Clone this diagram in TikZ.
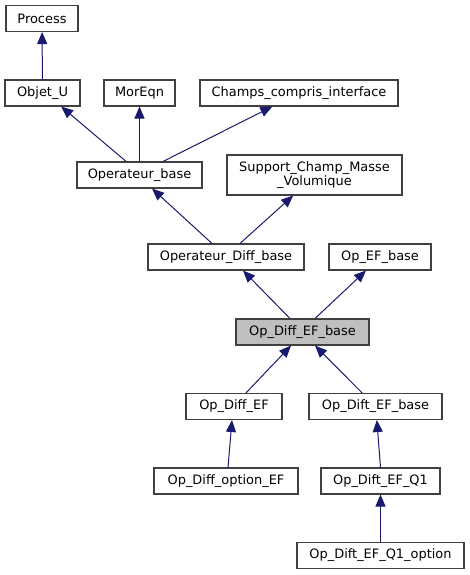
\documentclass[tikz,border=0pt]{standalone}
\usepackage{fontspec}
\setmainfont{DejaVu Sans}
\usetikzlibrary{arrows.meta}
\definecolor{edgeblue}{RGB}{25,25,112}
\definecolor{boxgray}{RGB}{64,64,64}
\tikzset{
  clase/.style={draw=boxgray, fill=white, text=black, line width=0.8pt, inner sep=0pt,
    minimum height=19.5pt, align=center, font=\fontsize{9.7}{11}\selectfont},
  actual/.style={clase, fill=black!25},
}
\begin{document}
\begin{tikzpicture}[x=0.75pt, y=-0.75pt, ->, >={Triangle[length=9pt,width=7.5pt]},
  line width=0.75pt, edgeblue]
\useasboundingbox (0,0) rectangle (470,575);
% Nodos
\node [clase, minimum width=54pt] (process) at (42,18.5) {Process};
\node [clase, minimum width=56.25pt] (objetu) at (42.5,93) {Objet\_U};
\node [clase, minimum width=53.25pt] (moreqn) at (139.5,93) {MorEqn};
\node [clase, minimum width=148.5pt] (champs) at (299,93) {Champs\_compris\_interface};
\node [clase, minimum width=93.75pt] (opbase) at (139.5,175) {Operateur\_base};
\node [clase, minimum width=131.25pt, minimum height=30pt] (support) at (314.5,175)
  {Support\_Champ\_Masse\\\_Volumique};
\node [clase, minimum width=117pt] (opdiffbase) at (226,257) {Operateur\_Diff\_base};
\node [clase, minimum width=76.5pt] (opefbase) at (380,257) {Op\_EF\_base};
\node [actual, minimum width=99.75pt] (opdiffefbase) at (302.5,332) {Op\_Diff\_EF\_base};
\node [clase, minimum width=72pt] (opdiffef) at (234,406.5) {Op\_Diff\_EF};
\node [clase, minimum width=99.75pt] (opdiftefbase) at (375.5,406.5) {Op\_Dift\_EF\_base};
\node [clase, minimum width=108pt] (opdiffoption) at (226,481) {Op\_Diff\_option\_EF};
\node [clase, minimum width=89.25pt] (opdiftq1) at (380.5,481) {Op\_Dift\_EF\_Q1};
\node [clase, minimum width=125.25pt] (opdiftq1option) at (380.5,555.5) {Op\_Dift\_EF\_Q1\_option};
% Herencia
% ---
% Objet_U, Operateur_base
% ---
\draw (objetu) -- (process);
\draw ([xshift=-10pt]opbase.north) -- ([xshift=14pt]objetu.south);
\draw (opbase) -- (moreqn);
\draw ([xshift=17.6pt]opbase.north) -- ([xshift=-20pt]champs.south);
% ---
% Operateur_Diff_base
% ---
\draw ([xshift=-10.5pt]opdiffbase.north) -- ([xshift=9.4pt]opbase.south);
\draw ([xshift=10.5pt]opdiffbase.north) -- ([xshift=-16pt]support.south);
% ---
% Op_Diff_EF_base
% ---
\draw ([xshift=-9.4pt]opdiffefbase.north) -- ([xshift=12.75pt]opdiffbase.south);
\draw ([xshift=9.4pt]opdiffefbase.north) -- ([xshift=-10.5pt]opefbase.south);
% ---
% Hijas
% ---
\draw ([xshift=9pt]opdiffef.north) -- ([xshift=-8.6pt]opdiffefbase.south);
\draw ([xshift=-10pt]opdiftefbase.north) -- ([xshift=9.4pt]opdiffefbase.south);
\draw ([xshift=1.5pt]opdiffoption.north) -- ([xshift=-1.5pt]opdiffef.south);
\draw (opdiftq1.north) -- ([xshift=1pt]opdiftefbase.south);
\draw (opdiftq1option) -- (opdiftq1);
\end{tikzpicture}
\end{document}
